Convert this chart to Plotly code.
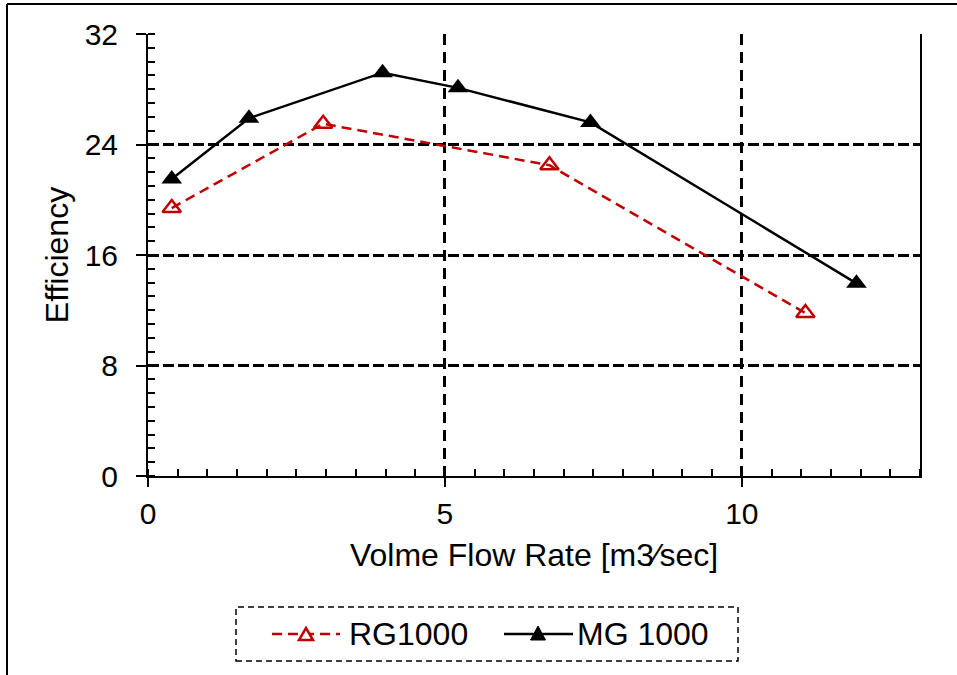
import plotly.graph_objects as go

# Data
rg_x = [0.40, 2.95, 6.76, 11.07]
rg_y = [19.4, 25.5, 22.5, 11.8]
mg_x = [0.40, 1.70, 3.95, 5.22, 7.45, 11.93]
mg_y = [21.5, 25.9, 29.2, 28.1, 25.6, 13.95]
x_ticks = [0, 5, 10]
y_ticks = [0, 8, 16, 24, 32]
series_names = ["RG1000", "MG 1000"]

FONT = "Liberation Sans, Arial, sans-serif"
RED = "#C00000"

fig = go.Figure()
fig.add_trace(go.Scatter(
    x=rg_x, y=rg_y, name=series_names[0], mode="lines+markers",
    line=dict(color=RED, width=2.5, dash="10px,6px"),
    marker=dict(symbol="triangle-up-open", size=16, color=RED, line=dict(width=2.5, color=RED)),
))
fig.add_trace(go.Scatter(
    x=mg_x, y=mg_y, name=series_names[1], mode="lines+markers",
    line=dict(color="black", width=2.5),
    marker=dict(symbol="triangle-up", size=18, color="black"),
))

W, H = 957, 675
L, R, T, B = 148, 37, 34, 199
pw, ph = W - L - R, H - T - B

def px(xp):
    return (xp - L) / pw

def py(yp):
    return (H - B - yp) / ph

def tri(cx, cy, w, h):
    return (f"M {px(cx - w/2)} {py(cy + h/2)} L {px(cx + w/2)} {py(cy + h/2)} "
            f"L {px(cx)} {py(cy - h/2)} Z")

LEG_Y = 634
shapes = [
    # dashed legend box
    dict(type="rect", xref="paper", yref="paper",
         x0=px(236), x1=px(738), y0=py(661), y1=py(607),
         line=dict(color="black", width=1.5, dash="6px,4px"), fillcolor="rgba(0,0,0,0)"),
    # legend sample: RG1000
    dict(type="line", xref="paper", yref="paper",
         x0=px(272), x1=px(340), y0=py(LEG_Y), y1=py(LEG_Y),
         line=dict(color=RED, width=2.5, dash="10px,6px")),
    dict(type="path", xref="paper", yref="paper", path=tri(306, LEG_Y, 14, 12),
         line=dict(color=RED, width=2.5), fillcolor="white"),
    # legend sample: MG 1000
    dict(type="line", xref="paper", yref="paper",
         x0=px(504), x1=px(573), y0=py(LEG_Y), y1=py(LEG_Y),
         line=dict(color="black", width=2.5)),
    dict(type="path", xref="paper", yref="paper", path=tri(538, LEG_Y - 1, 15, 14),
         line=dict(color="black", width=1), fillcolor="black"),
    # outer frame (left and top)
    dict(type="line", xref="paper", yref="paper",
         x0=px(7), x1=px(7), y0=py(4), y1=py(680),
         line=dict(color="black", width=2)),
    dict(type="line", xref="paper", yref="paper",
         x0=px(7), x1=px(960), y0=py(4), y1=py(4),
         line=dict(color="black", width=2)),
]

annotations = [
    dict(xref="paper", yref="paper", x=px(347), y=py(LEG_Y), xanchor="left", yanchor="middle",
         text=series_names[0], showarrow=False, font=dict(size=32, family=FONT, color="black")),
    dict(xref="paper", yref="paper", x=px(575), y=py(LEG_Y), xanchor="left", yanchor="middle",
         text=series_names[1], showarrow=False, font=dict(size=32, family=FONT, color="black")),
]

fig.update_layout(
    width=W, height=H,
    margin=dict(l=L, r=R, t=T, b=B),
    paper_bgcolor="white", plot_bgcolor="white",
    font=dict(family=FONT, size=30, color="black"),
    showlegend=False,
    xaxis=dict(
        range=[0, 13], tickvals=x_ticks, ticktext=[str(v) for v in x_ticks],
        showline=True, linecolor="black", linewidth=2, mirror=False,
        ticks="outside", ticklen=9, tickwidth=2, tickcolor="black",
        minor=dict(dtick=0.5, ticks="inside", ticklen=7, tickwidth=1.5, tickcolor="black", showgrid=False),
        showgrid=True, gridcolor="black", gridwidth=2.5, griddash="11px,7px",
        zeroline=False, ticklabelstandoff=1,
        title=dict(text="Volme Flow Rate [m3\u2215sec]", font=dict(size=32, family=FONT), standoff=15),
        tickfont=dict(size=30, family=FONT),
    ),
    yaxis=dict(
        range=[0, 32], tickvals=y_ticks, ticktext=[str(v) for v in y_ticks],
        showline=True, linecolor="black", linewidth=2, mirror=True,
        ticks="outside", ticklen=10, tickwidth=2, tickcolor="black",
        minor=dict(dtick=1, ticks="inside", ticklen=7, tickwidth=1.5, tickcolor="black", showgrid=False),
        showgrid=True, gridcolor="black", gridwidth=2.5, griddash="11px,4px",
        zeroline=False, ticklabelstandoff=12,
        title=dict(text="Efficiency", font=dict(size=32, family=FONT), standoff=6),
        tickfont=dict(size=30, family=FONT),
    ),
    shapes=shapes,
    annotations=annotations,
)

fig.write_html("out.html", config={"displayModeBar": False},
               post_script="document.body.style.margin='0';")
